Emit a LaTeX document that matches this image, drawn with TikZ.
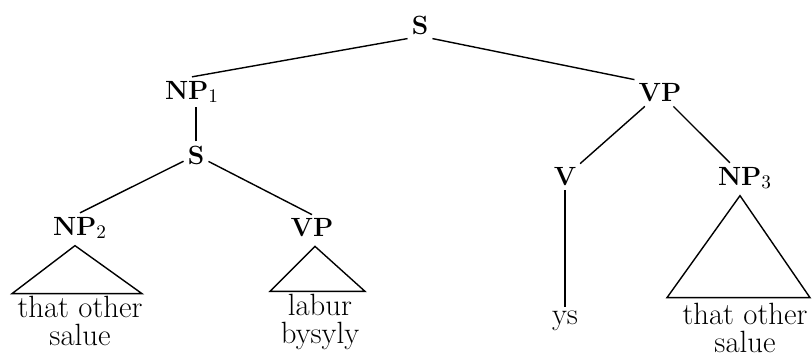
\documentclass[tikz,border=0pt]{standalone}
\begin{document}
\begin{tikzpicture}[x=1cm,y=1cm,
    cat/.style={font=\fontsize{15}{18}\selectfont\bfseries, inner sep=2pt},
    leaf/.style={font=\fontsize{17.5}{16}\selectfont, align=center, inner sep=2pt},
    every path/.style={line width=0.8pt}]
    \useasboundingbox (0,0) rectangle (16.24,-7.22);
    % categories
    \node[cat] (s) at (8.4,-0.5) {S};
    \node[cat] (np1) at (3.84,-1.84) {NP$_1$};
    \node[cat] (s2) at (3.92,-3.1) {S};
    \node[cat] (np2) at (1.6,-4.56) {NP$_2$};
    \node[cat] (vp2) at (6.24,-4.56) {VP};
    \node[cat] (vp) at (13.2,-1.86) {VP};
    \node[cat] (v) at (11.3,-3.54) {V};
    \node[cat] (np3) at (14.9,-3.56) {NP$_3$};
    % words
    \node[leaf] (w1) at (1.6,-6.42) {that other\\salue};
    \node[leaf] (w2) at (6.4,-6.44) {labur\\bysyly};
    \node[leaf] (w3) at (11.3,-6.42) {ys};
    \node[leaf] (w4) at (14.9,-6.56) {that other\\salue};
    % branches
    \draw (s.south west) -- (np1.north);
    \draw (s.south east) -- (vp.north west);
    \draw (s2) -- (s2 |- np1.south);
    \draw (s2) -- (np2.north);
    \draw (s2) -- (vp2.north);
    \draw (vp) -- (v);
    \draw (vp) -- (np3);
    \draw (v) -- (w3);
    % triangles
    \draw (np2.south) ++(-0.1,-0.05) -- ++(-1.26,-0.96) -- ++(2.6,0) -- cycle;
    \draw (vp2.south) ++(0.06,-0.1) -- ++(-0.9,-0.9) -- ++(1.9,0) -- cycle;
    \draw (np3.south) ++(-0.1,-0.05) -- ++(-1.46,-2.04) -- ++(2.86,0) -- cycle;
\end{tikzpicture}
\end{document}
